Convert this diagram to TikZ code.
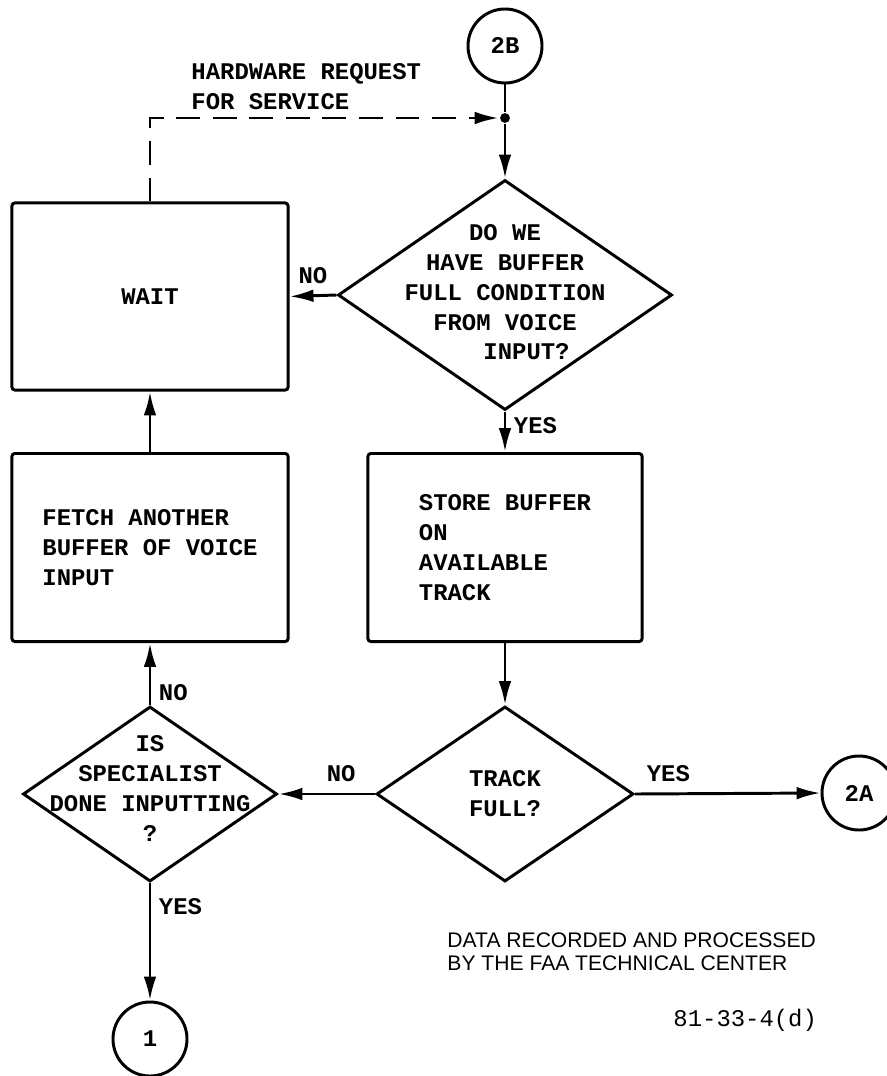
\documentclass[tikz,border=0pt]{standalone}
\usepackage{fontspec}
\setmonofont{Liberation Mono}
\setsansfont{Liberation Sans}
\usetikzlibrary{positioning,arrows.meta,shapes.geometric}

\begin{document}
\begin{tikzpicture}[
  x=0.025cm, y=-0.025cm,
  font=\fontsize{17}{21.3}\selectfont\ttfamily\bfseries,
  line width=2.1pt,
  n/.style={draw, rounded corners=2pt, align=left, minimum width=6.9cm,
            minimum height=4.7cm},
  d/.style={draw, diamond, inner sep=0pt},
  c/.style={draw, circle, minimum size=1.85cm, inner sep=0pt},
  t/.style={align=center, inner sep=0pt},
  >={Latex[length=17pt,width=9pt]}
]
\useasboundingbox (0,0) rectangle (886,1076);

\node[c] (c2b) at (505,46) {2B};
\node[circle, fill, inner sep=0pt, minimum size=7pt] (dot) at (505,118) {};
\node[anchor=west, align=left, inner sep=0pt] (hw) at (190,87)
  {HARDWARE REQUEST\\FOR SERVICE};

\node[d, minimum width=8.35cm, minimum height=5.75cm,
  label={[t, yshift=2pt]center:{DO WE\\HAVE BUFFER\\FULL CONDITION\\FROM VOICE\\\hphantom{XXX}INPUT?}}]
  (full) at (505,295) {};
\node[n, minimum height=4.675cm] (wait) at (150,296.5) {WAIT};
\node[n] (fetch) at (150,547.5) {FETCH ANOTHER\\BUFFER OF VOICE\\INPUT};
\node[n, minimum width=6.85cm] (store) at (505,547.5)
  {STORE BUFFER\\ON\\AVAILABLE\\TRACK};

\node[d, minimum width=6.425cm, minimum height=4.375cm,
  label={[t]center:{TRACK\\FULL?}}] (track) at (505,794) {};
\node[d, minimum width=6.35cm, minimum height=4.375cm,
  label={[t, yshift=4pt]center:{IS\\SPECIALIST\\DONE INPUTTING\\?}}] (spec) at (150,794) {};
\node[c] (c2a) at (859,793) {2A};
\node[c] (c1) at (150,1039) {1};

\node[anchor=west, align=left, inner sep=0pt,
  font=\fontsize{15}{16.3}\selectfont\sffamily] (note) at (446,952)
  {DATA RECORDED AND PROCESSED\\BY THE FAA TECHNICAL CENTER};
\node[anchor=west, inner sep=0pt, font=\fontsize{17}{20}\selectfont\ttfamily]
  (fig) at (672,1020) {81-33-4(d)};

% request for service
\draw[->, dash pattern=on 17pt off 9pt] (wait.north) |- (dot);
\draw (c2b) -- (dot);
\draw[->] (dot) -- (full.north);

\draw[->] (full.west) -- node[above=4pt]{NO} (wait.east);
\draw[->] (full.south) -- node[pos=0.35, right=2pt]{YES} (store.north);
\draw[->] (fetch.north) -- (wait.south);
\draw[->] (store.south) -- (track.north);
\draw[->] (track.west) -- node[pos=0.35, above=4pt]{NO} (spec.east);
\draw[->] (track.east) -- node[pos=0.18, above=4pt]{YES} (c2a.west);
\draw[->] (spec.north) -- node[pos=0.2, right=2pt]{NO} (fetch.south);
\draw[->] (spec.south) -- node[pos=0.2, right=2pt]{YES} (c1.north);
\end{tikzpicture}
\end{document}
